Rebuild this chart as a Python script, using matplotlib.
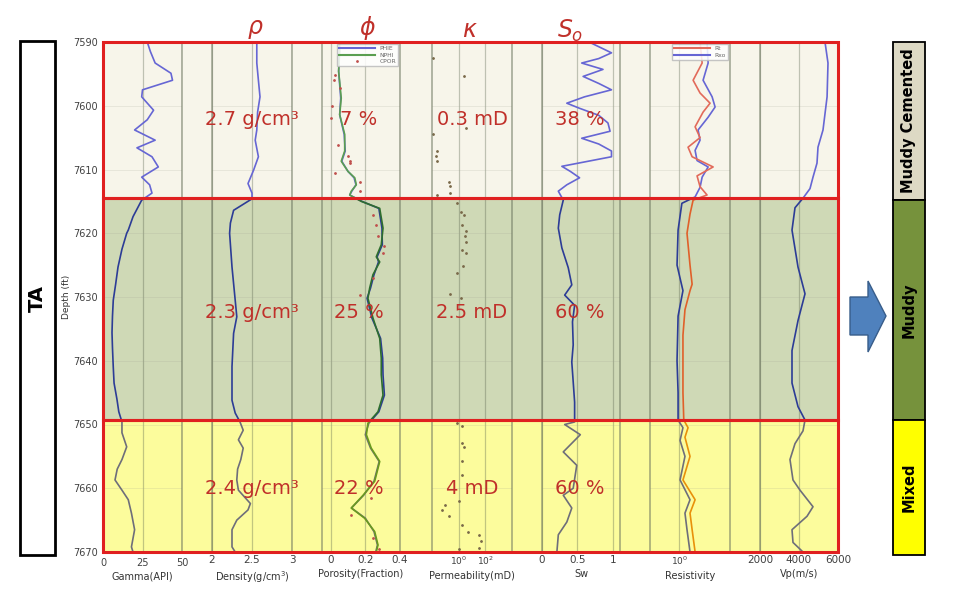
import numpy as np
import matplotlib
matplotlib.use("Agg")
import matplotlib.pyplot as plt
from matplotlib.patches import Rectangle, Polygon
from matplotlib.lines import Line2D

plt.rcParams['font.family'] = ['DejaVu Sans']

# zones (depth in ft)
zone_names = ["Muddy Cemented", "Muddy", "Mixed"]
zone_tops = [7590, 7614.5, 7649.3]
zone_bots = [7614.5, 7649.3, 7670]

# gamma ray (API)
gr_depth = [7590, 7591.5, 7593.3, 7594.9, 7596, 7597.5, 7598.6, 7600.7, 7602.2, 7603.8,
            7605.4, 7606.6, 7608, 7609.6, 7611.2, 7612.4, 7613.7, 7614.8, 7617.4, 7619.5,
            7620, 7622.5, 7625.3, 7628, 7630.5, 7633, 7635.6, 7638, 7641, 7643.5,
            7646, 7648, 7649.6, 7651.3, 7653.5, 7655.5, 7657, 7658.7, 7660.3, 7661.8,
            7663.9, 7666.5, 7669.2, 7670]
gr = [28, 30, 33, 43, 44, 25, 24.5, 32, 28, 20,
      33, 21.5, 31, 35, 24.5, 29.5, 31, 24.5, 19, 16,
      15, 12, 9.5, 8, 6.5, 6, 5.7, 6, 6.5, 7,
      8.8, 10, 12, 12, 15, 12, 9, 7.6, 12, 16,
      18, 20, 18, 19]

# bulk density (g/cm3)
den_depth = [7590, 7593.3, 7596, 7598.6, 7601, 7603.8, 7605.4, 7608, 7610.1, 7612.2,
             7613.7, 7614.6, 7616.4, 7618.4, 7620, 7625.3, 7630.5, 7633.1, 7635.7, 7640.9,
             7646.2, 7648.2, 7649.6, 7650.9, 7652.4, 7653.7, 7655.5, 7657, 7658.7, 7660.3,
             7662.4, 7663.4, 7665, 7666.5, 7669.2, 7670]
den = [2.56, 2.56, 2.58, 2.60, 2.57, 2.56, 2.54, 2.58, 2.52, 2.45,
       2.50, 2.50, 2.27, 2.23, 2.22, 2.25, 2.29, 2.31, 2.27, 2.25,
       2.25, 2.29, 2.35, 2.39, 2.33, 2.39, 2.36, 2.32, 2.31, 2.33,
       2.48, 2.45, 2.31, 2.25, 2.25, 2.29]

# porosity (fraction)
phi_depth = [7590, 7591.5, 7594.6, 7598.8, 7601.4, 7604.5, 7607.1, 7608.7, 7610.3, 7611.3,
             7612.4, 7613.4, 7614, 7615, 7616.1, 7619.2, 7621.8, 7623.7, 7624.5, 7626.5,
             7628.6, 7630.2, 7633.3, 7636.5, 7639.6, 7642.2, 7645.4, 7648, 7649.8, 7651.6,
             7653.7, 7655.8, 7658.9, 7661.1, 7663.1, 7664.7, 7666.8, 7668.9, 7670]
nphi = [0.05, 0.052, 0.046, 0.061, 0.052, 0.081, 0.081, 0.061, 0.10, 0.139,
        0.148, 0.119, 0.11, 0.177, 0.283, 0.302, 0.292, 0.263, 0.283, 0.244,
        0.225, 0.215, 0.244, 0.283, 0.292, 0.292, 0.302, 0.273, 0.215, 0.206,
        0.234, 0.283, 0.254, 0.187, 0.119, 0.196, 0.254, 0.273, 0.263]
phie = [0.05, 0.05, 0.046, 0.058, 0.052, 0.078, 0.084, 0.064, 0.10, 0.135,
        0.146, 0.122, 0.11, 0.18, 0.278, 0.296, 0.298, 0.268, 0.276, 0.25,
        0.23, 0.21, 0.238, 0.288, 0.30, 0.302, 0.31, 0.278, 0.22, 0.2,
        0.23, 0.28, 0.25, 0.19, 0.12, 0.2, 0.25, 0.27, 0.26]
cpor_depth = [7595.1, 7595.9, 7597.2, 7600.1, 7601.9, 7606.1, 7607.9, 7608.7, 7609, 7610.5,
              7611.9, 7613.4, 7617.1, 7618.7, 7620.5, 7622, 7623.1, 7627, 7629.7, 7661.6,
              7664.2, 7667.8, 7669.5]
cpor = [0.023, 0.019, 0.052, 0.008, 0.004, 0.042, 0.10, 0.11, 0.11, 0.023,
        0.167, 0.167, 0.244, 0.263, 0.273, 0.31, 0.302, 0.244, 0.167, 0.234,
        0.117, 0.244, 0.28]

# core permeability (mD)
perm_depth = [7592.5, 7595.4, 7603.5, 7604.5, 7607.1, 7607.9, 7608.7, 7611.9, 7612.6, 7613.7,
              7614, 7615.3, 7616.6, 7617.1, 7618.7, 7619.7, 7620.5, 7621.3, 7622.6, 7623.1,
              7625.2, 7626.2, 7629.6, 7630.2, 7649.8, 7650.3, 7652.9, 7653.5, 7655.8, 7657.9,
              7662, 7662.6, 7663.4, 7664.4, 7665.7, 7666.8, 7667.3, 7668.3, 7669.4, 7669.6]
perm = [0.011, 2.6, 3.5, 0.011, 0.023, 0.019, 0.023, 0.18, 0.24, 0.24,
        0.023, 0.8, 1.4, 2.6, 1.9, 3.5, 3.0, 3.5, 1.9, 3.5,
        2.1, 0.8, 0.24, 1.4, 0.8, 1.9, 1.9, 2.6, 1.9, 1.7,
        1.05, 0.1, 0.056, 0.18, 1.9, 4.7, 36, 50, 36, 1.0]

# water saturation
sw_depth = [7590, 7590.2, 7591.7, 7592.6, 7593.3, 7594.3, 7595.4, 7596.5, 7597.5, 7598.6,
            7599.6, 7600.4, 7601.5, 7602.7, 7604.0, 7605.1, 7606.0, 7607.1, 7608.0, 7609.5,
            7610.3, 7611.3, 7612.4, 7613.4, 7614.8, 7617.1, 7619.2, 7622.3, 7625.4, 7628.1,
            7629.7, 7631.3, 7633.9, 7637.5, 7640.2, 7643.3, 7646.5, 7649.6, 7650, 7651.6,
            7654.3, 7656.4, 7660, 7661.1, 7663.1, 7665.3, 7667.3, 7670]
sw = [0.68, 0.70, 0.98, 0.80, 0.56, 0.86, 0.58, 0.80, 0.98, 0.60,
      0.35, 0.53, 0.80, 0.93, 0.96, 0.56, 0.80, 0.98, 0.98, 0.28,
      0.40, 0.53, 0.35, 0.23, 0.30, 0.25, 0.23, 0.28, 0.37, 0.42,
      0.32, 0.46, 0.43, 0.44, 0.42, 0.44, 0.46, 0.46, 0.32, 0.54,
      0.30, 0.49, 0.44, 0.30, 0.42, 0.35, 0.23, 0.21]

# resistivity (ohm.m)
rt_depth = [7590, 7593.3, 7596, 7598, 7599.6, 7601, 7603.3, 7605, 7606.5, 7608,
            7609.6, 7611, 7612.7, 7614, 7614.8, 7617, 7620, 7625, 7628, 7629,
            7632, 7636, 7640, 7645, 7649.3, 7650.5, 7652, 7655, 7658.7, 7661.8,
            7663.9, 7666.5, 7670]
rt = [2.34, 2.55, 1.76, 2.34, 3.53, 2.65, 1.91, 2.34, 1.43, 1.69,
      4.0, 2.07, 2.34, 3.12, 1.76, 1.55, 1.37, 1.55, 1.69, 1.55,
      1.26, 1.16, 1.16, 1.16, 1.2, 1.43, 1.26, 1.55, 1.16, 1.91,
      1.55, 1.69, 1.91]
rxo_depth = [7590, 7593.3, 7596, 7598.6, 7600.2, 7601.8, 7603.8, 7605.4, 7607, 7608.6,
             7609.6, 7611.2, 7612.8, 7614.3, 7615.3, 7619.5, 7625, 7629, 7633, 7640,
             7645, 7649.3, 7650.5, 7652.5, 7655, 7658.7, 7661.8, 7663.9, 7666.5, 7670]
rxo = [3.12, 3.26, 2.65, 3.84, 4.34, 3.26, 2.16, 2.34, 1.91, 2.07,
       3.26, 2.55, 2.34, 1.91, 1.11, 0.95, 0.91, 1.16, 0.95, 0.91,
       0.95, 0.95, 1.16, 1.03, 1.26, 1.03, 1.55, 1.26, 1.37, 1.55]

# P-wave velocity (m/s)
vp_depth = [7590, 7593.3, 7598.6, 7603.8, 7606.5, 7609, 7611.2, 7613, 7614.5, 7616,
            7619.5, 7625.3, 7629.5, 7633.7, 7638.4, 7643.5, 7647.2, 7649.3, 7651, 7653,
            7655.5, 7658.7, 7660.3, 7662.9, 7664.4, 7666.5, 7668.5, 7670]
vp = [5333, 5487, 5440, 5231, 4974, 4923, 4718, 4564, 4205, 3795,
      3641, 3949, 4308, 3949, 3641, 3641, 3949, 4308, 4205, 3795,
      3538, 3692, 4051, 4718, 4410, 3641, 3692, 4205]

# zone summary text
rho_text = ["2.7 g/cm³", "2.3 g/cm³", "2.4 g/cm³"]
phi_text = ["7 %", "25 %", "22 %"]
k_text = ["0.3 mD", "2.5 mD", "4 mD"]
so_text = ["38 %", "60 %", "60 %"]

zone_fill = ['#f7f5ea', '#cfd9b6', '#fcfc9c']
blue_c = ['#6666d4', '#2c3c96', '#6e6e7a']
green_c = ['#5a9e50', '#2e6e2e', '#6a9a1e']
red_c = ['#e26a5a', '#e0602a', '#e8900a']
txt_red = '#c0302a'

W, H = 960, 595
fig = plt.figure(figsize=(9.6, 5.95), dpi=100)


def fx(px):
    return px / W


def fy(py):
    return 1 - py / H


Y0, Y1 = 42, 552
ylim = (7670, 7590)

# background fills
bg = fig.add_axes([fx(103), fy(Y1), (838 - 103) / W, (Y1 - Y0) / H])
for top, bot, c in zip(zone_tops, zone_bots, zone_fill):
    bg.axhspan(top, bot, color=c, lw=0)
bg.set_ylim(ylim)
bg.set_xlim(0, 1)
bg.axis('off')

tracks = [(103, 182), (212, 292), (322, 400), (432, 512), (542, 620), (650, 730), (760, 838)]


def make_track(x0, x1):
    ax = fig.add_axes([fx(x0), fy(Y1), (x1 - x0) / W, (Y1 - Y0) / H])
    ax.set_facecolor('none')
    ax.set_ylim(ylim)
    ax.set_yticks(range(7590, 7671, 10))
    ax.tick_params(length=0, labelsize=7.5, pad=2, colors='#404040', labelleft=False)
    ax.grid(axis='x', color='#55604a', alpha=0.35, lw=0.9)
    ax.grid(axis='y', color='#a0a090', alpha=0.25, lw=0.5)
    for s in ['top', 'bottom']:
        ax.spines[s].set_visible(False)
    for s in ['left', 'right']:
        ax.spines[s].set_color('#6d7660')
        ax.spines[s].set_alpha(0.6)
        ax.spines[s].set_linewidth(1.2)
    return ax


def zoned(ax, x, y, colors, lw=1.2):
    for top, bot, c in zip(zone_tops, zone_bots, colors):
        ln, = ax.plot(x, y, color=c, lw=lw)
        clip = Rectangle((0, top), 1, bot - top, transform=ax.get_yaxis_transform())
        ln.set_clip_path(clip)


axs = [make_track(a, b) for a, b in tracks]
lab_kw = dict(fontsize=7, labelpad=3, color='#333333')

ax = axs[0]
zoned(ax, gr, gr_depth, blue_c)
ax.set_xlim(0, 50)
ax.set_xticks([0, 25, 50])
ax.tick_params(labelleft=True, labelsize=7, pad=4)
ax.set_ylabel("Depth (ft)", fontsize=6.5, labelpad=1, color='#333333')
ax.set_xlabel("Gamma(API)", **lab_kw)

ax = axs[1]
zoned(ax, den, den_depth, blue_c)
ax.set_xlim(2, 3)
ax.set_xticks([2, 2.5, 3])
ax.set_xticklabels(["2", "2.5", "3"])
ax.set_xlabel("Density(g/cm$^3$)", **lab_kw)

ax = axs[2]
zoned(ax, phie, phi_depth, blue_c)
zoned(ax, nphi, phi_depth, green_c)
ax.plot(cpor, cpor_depth, ls='none', marker='.', ms=2, color='#c0504d')
ax.set_xlim(-0.05, 0.4)
ax.set_xticks([0, 0.2, 0.4])
ax.set_xticklabels(["0", "0.2", "0.4"])
ax.set_xlabel("Porosity(Fraction)", **lab_kw)
handles = [Line2D([], [], color='#6666d4', lw=1.5), Line2D([], [], color='#5a9e50', lw=1.5),
           Line2D([], [], ls='none', marker='.', ms=2, color='#c0504d')]
leg = ax.legend(handles, ["PHIE", "NPHI", "CPOR"], loc='upper right', fontsize=4.3,
                handlelength=6, labelspacing=0.25, borderpad=0.35, framealpha=0.85,
                edgecolor='#bbbbbb', fancybox=False, borderaxespad=0.3)
for t in leg.get_texts():
    t.set_color('#666666')

ax = axs[3]
ax.set_xscale('log')
ax.plot(perm, perm_depth, ls='none', marker='.', ms=2, color='#7a6a4a')
ax.set_xlim(1e-2, 1e4)
ax.set_xticks([1, 100])
ax.set_xticklabels([r'$10^0$', r'$10^2$'], fontsize=6.5)
ax.minorticks_off()
ax.set_xlabel("Permeability(mD)", **lab_kw)

ax = axs[4]
zoned(ax, sw, sw_depth, blue_c)
ax.set_xlim(0, 1.1)
ax.set_xticks([0, 0.5, 1])
ax.set_xticklabels(["0", "0.5", "1"])
ax.set_xlabel("Sw", **lab_kw)

ax = axs[5]
ax.set_xscale('log')
zoned(ax, rxo, rxo_depth, blue_c)
zoned(ax, rt, rt_depth, red_c)
ax.set_xlim(0.3, 8)
ax.set_xticks([1])
ax.set_xticklabels([r'$10^0$'], fontsize=6.5)
ax.minorticks_off()
ax.set_xlabel("Resistivity", **lab_kw)
handles = [Line2D([], [], color='#e26a5a', lw=1.5), Line2D([], [], color='#6666d4', lw=1.5)]
leg = ax.legend(handles, ["Rt", "Rxo"], loc='upper right', fontsize=4.3, handlelength=6,
                labelspacing=0.25, borderpad=0.35, framealpha=0.85, edgecolor='#bbbbbb',
                fancybox=False, borderaxespad=0.3)
for t in leg.get_texts():
    t.set_color('#666666')

ax = axs[6]
zoned(ax, vp, vp_depth, blue_c)
ax.set_xlim(2000, 6000)
ax.set_xticks([2000, 4000, 6000])
ax.set_xlabel("Vp(m/s)", **lab_kw)

# red zone boxes on top
ov = fig.add_axes([fx(103), fy(Y1), (838 - 103) / W, (Y1 - Y0) / H])
ov.set_facecolor('none')
ov.set_ylim(ylim)
ov.set_xlim(0, 1)
ov.axis('off')
for top, bot in zip(zone_tops, zone_bots):
    ov.add_patch(Rectangle((0, top), 1, bot - top, fill=False, ec='#e02020', lw=2.2, clip_on=False))

# zone values
zone_mid_y = [120, 313, 488]
for i, py in enumerate(zone_mid_y):
    fig.text(fx(252), fy(py), rho_text[i], color=txt_red, fontsize=14, ha='center', va='center')
    fig.text(fx(359), fy(py), phi_text[i], color=txt_red, fontsize=14, ha='center', va='center')
    fig.text(fx(472), fy(py), k_text[i], color=txt_red, fontsize=14, ha='center', va='center')
    fig.text(fx(580), fy(py), so_text[i], color=txt_red, fontsize=14, ha='center', va='center')

# header symbols
fig.text(fx(255), fy(29), r'$\rho$', color=txt_red, fontsize=17, ha='center', va='center')
fig.text(fx(367), fy(28), r'$\phi$', color=txt_red, fontsize=17, ha='center', va='center')
fig.text(fx(470), fy(30), r'$\kappa$', color=txt_red, fontsize=17, ha='center', va='center')
fig.text(fx(570), fy(31), r'$S_o$', color=txt_red, fontsize=17, ha='center', va='center')

# left "TA" box
fig.add_artist(Rectangle((fx(20), fy(555)), 35 / W, 514 / H, transform=fig.transFigure,
                         fill=False, ec='black', lw=2))
fig.text(fx(37), fy(298), "TA", rotation=90, fontsize=14, fontweight='bold',
         ha='center', va='center')

# right facies column
col_fill = ['#ddd9c4', '#76923c', '#ffff00']
col_edges = [42, 200, 420, 555]
for i in range(3):
    fig.add_artist(Rectangle((fx(893), fy(col_edges[i + 1])), 32 / W,
                             (col_edges[i + 1] - col_edges[i]) / H, transform=fig.transFigure,
                             fc=col_fill[i], ec='black', lw=1.3))
    fig.text(fx(909), fy((col_edges[i] + col_edges[i + 1]) / 2), zone_names[i], rotation=90,
             fontsize=10.5, fontweight='bold', ha='center', va='center')

# arrow
arrow_px = [(850, 297), (868, 297), (868, 281), (886, 316), (868, 352), (868, 335), (850, 335)]
fig.add_artist(Polygon([(fx(a), fy(b)) for a, b in arrow_px], closed=True,
                       transform=fig.transFigure, fc='#4f81bd', ec='#385d8a', lw=1))

fig.savefig("out.png", dpi=100)
